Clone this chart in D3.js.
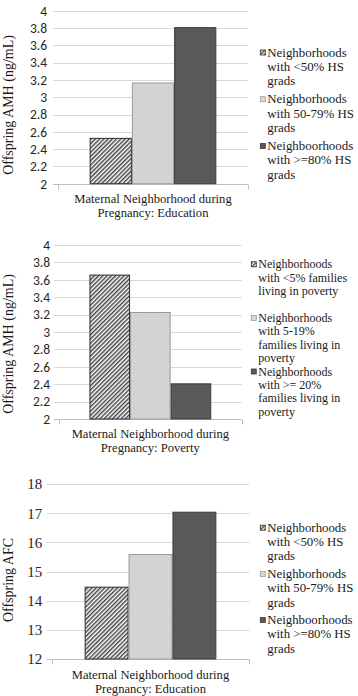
<!DOCTYPE html>
<html><head><meta charset="utf-8">
<script src="https://cdn.jsdelivr.net/npm/d3@7"></script>
<style>html,body{margin:0;padding:0;background:#fff;} svg{display:block;}</style>
</head><body><svg id="c" width="358" height="696"></svg>
<script>
// ---------- data ----------
const amhTickLabels = ["2","2.2","2.4","2.6","2.8","3","3.2","3.4","3.6","3.8","4"];
const afcTickLabels = ["12","13","14","15","16","17","18"];
const educationCategory = ["Maternal Neighborhood during Pregnancy: Education"];
const povertyCategory = ["Maternal Neighborhood during Pregnancy: Poverty"];
const educationTitleLines = ["Maternal Neighborhood during","Pregnancy: Education"];
const povertyTitleLines = ["Maternal Neighborhood during","Pregnancy: Poverty"];
const educationGroups = ["<50% HS grads","50-79% HS grads",">=80% HS grads"];
const povertyGroups = ["<5% families in poverty","5-19% families in poverty",">= 20% families in poverty"];
const educationLegend = [
  ["Neighborhoods","with <50% HS","grads"],
  ["Neighborhoods","with 50-79% HS","grads"],
  ["Neighboorhoods","with >=80% HS","grads"]];
const povertyLegend = [
  ["Neighborhoods","with <5% families","living in poverty"],
  ["Neighborhoods","with 5-19%","families living in","poverty"],
  ["Neighborhoods","with >= 20%","families living in","poverty"]];
const amhByEducation = [2.53, 3.17, 3.81];
const amhByPoverty = [3.66, 3.23, 2.41];
const afcByEducation = [14.48, 15.60, 17.05];

// ---------- drawing ----------
const svg = d3.select("#c");
const defs = svg.append("defs");
const hatch = defs.append("pattern").attr("id","p0").attr("patternUnits","userSpaceOnUse")
  .attr("width",3).attr("height",3).attr("patternTransform","rotate(45)");
hatch.append("rect").attr("width",3).attr("height",3).attr("fill","#fff");
hatch.append("line").attr("x1",0.75).attr("y1",0).attr("x2",0.75).attr("y2",3).attr("stroke","#3a3a3a").attr("stroke-width",1.4);
const light = defs.append("pattern").attr("id","p1").attr("patternUnits","userSpaceOnUse")
  .attr("width",2).attr("height",2).attr("patternTransform","rotate(-45)");
light.append("rect").attr("width",2).attr("height",2).attr("fill","#dadada");
light.append("line").attr("x1",0.5).attr("y1",0).attr("x2",0.5).attr("y2",2).attr("stroke","#c9c9c9").attr("stroke-width",0.8);
const dark = defs.append("pattern").attr("id","p2").attr("patternUnits","userSpaceOnUse")
  .attr("width",2).attr("height",2);
dark.append("rect").attr("width",2).attr("height",2).attr("fill","#575757");
dark.append("rect").attr("width",1).attr("height",1).attr("fill","#5f5f5f");

const fills = ["url(#p0)","url(#p1)","url(#p2)"];
const strokes = ["#2e2e2e","#9a9a9a","#3c3c3c"];
const swatchFills = ["url(#p0)","#d9d9d9","#595959"];
const serif = "Liberation Serif, Times New Roman, serif";

function multiline(sel, lines, x, lh) {
  sel.selectAll("tspan").data(lines).join("tspan")
    .attr("x", x).attr("dy", (d, i) => i === 0 ? 0 : lh).text(d => d);
}

function drawChart(o) {
  const g = svg.append("g");
  const y = d3.scaleLinear().domain([+o.ticks[0], +o.ticks[o.ticks.length-1]]).range([o.bottom, o.top]);
  const x0 = d3.scaleBand().domain(o.category).range([o.left, o.right]).paddingInner(0).paddingOuter(0.25);
  const x1 = d3.scaleBand().domain(o.groups).range([0, x0.bandwidth()]).padding(0);

  // gridlines
  g.append("g").selectAll("line").data(o.ticks.slice(1)).join("line")
    .attr("x1", o.left - 5).attr("x2", o.right)
    .attr("y1", d => Math.round(y(+d)) + 0.5).attr("y2", d => Math.round(y(+d)) + 0.5)
    .attr("stroke", "#d9d9d9").attr("stroke-width", 1);
  // category axis
  const yb = Math.round(o.bottom) + 0.5;
  g.append("line").attr("x1", o.left - 5).attr("x2", o.right).attr("y1", yb).attr("y2", yb)
    .attr("stroke", "#bfbfbf");
  g.selectAll(".ct").data([o.left, o.right]).join("line")
    .attr("x1", d => Math.round(d) + 0.5).attr("x2", d => Math.round(d) + 0.5)
    .attr("y1", yb).attr("y2", yb + 5).attr("stroke", "#bfbfbf");

  // tick labels
  g.append("g").selectAll("text").data(o.ticks).join("text")
    .attr("x", o.labelRight).attr("y", d => y(+d)).attr("dy", "0.36em")
    .attr("text-anchor", "end").attr("font-family", o.tickFont).attr("font-size", o.tickSize)
    .attr("fill", "#262626").text(d => d);

  // bars
  const cat = o.category[0];
  g.append("g").selectAll("rect").data(o.values).join("rect")
    .attr("x", (d, i) => x0(cat) + x1(o.groups[i]) + 0.5)
    .attr("y", d => y(d) + 0.5)
    .attr("width", x1.bandwidth() - 1)
    .attr("height", d => y(+o.ticks[0]) - y(d) - 0.5)
    .attr("fill", (d, i) => fills[i]).attr("stroke", (d, i) => strokes[i]).attr("stroke-width", 1);

  // y title
  g.append("text").attr("transform", `translate(${o.yTitleX},${o.yTitleY}) rotate(-90)`)
    .attr("text-anchor", "middle").attr("font-family", serif)
    .attr("font-size", 14).attr("fill", "#1a1a1a").text(o.yTitle);

  // x title
  const cx = x0(cat) + x0.bandwidth() / 2;
  g.append("text").attr("y", o.xTitleY)
    .attr("text-anchor", "middle").attr("font-family", serif)
    .attr("font-size", 12.6).attr("fill", "#1a1a1a")
    .call(multiline, o.xTitleLines, cx, o.xTitleLH);

  // legend
  const lg = g.append("g");
  o.legend.forEach((lines, i) => {
    const ly = o.legendY + i * o.legendStep;
    lg.append("rect").attr("x", o.legendX - 7).attr("y", ly - 6.5).attr("width", 5).attr("height", 5)
      .attr("fill", swatchFills[i]).attr("stroke", strokes[i]).attr("stroke-width", 0.8);
    lg.append("text").attr("y", ly)
      .attr("font-family", serif).attr("font-size", o.legendFont).attr("fill", "#1a1a1a")
      .call(multiline, lines, o.legendX, o.legendLH);
  });
}

drawChart({
  ticks: amhTickLabels, category: educationCategory, groups: educationGroups, values: amhByEducation,
  left: 58, right: 248, top: 10.7, bottom: 183.7, labelRight: 47,
  tickFont: "Carlito, Lato, sans-serif", tickSize: 13.5,
  yTitle: "Offspring AMH (ng/mL)", yTitleX: 12.5, yTitleY: 105,
  xTitleLines: educationTitleLines, xTitleY: 203.2, xTitleLH: 14.1,
  legend: educationLegend, legendX: 267.3, legendY: 56.5, legendStep: 46.7, legendLH: 14.4, legendFont: 12.9
});
drawChart({
  ticks: amhTickLabels, category: povertyCategory, groups: povertyGroups, values: amhByPoverty,
  left: 59, right: 241.7, top: 245, bottom: 419, labelRight: 50,
  tickFont: "Carlito, Lato, sans-serif", tickSize: 13.5,
  yTitle: "Offspring AMH (ng/mL)", yTitleX: 12.5, yTitleY: 344,
  xTitleLines: povertyTitleLines, xTitleY: 438.2, xTitleLH: 14.1,
  legend: povertyLegend, legendX: 258.3, legendY: 268.3, legendStep: 53.6, legendLH: 13.4, legendFont: 12
});
drawChart({
  ticks: afcTickLabels, category: educationCategory, groups: educationGroups, values: afcByEducation,
  left: 51.7, right: 249.3, top: 484, bottom: 659, labelRight: 42.3,
  tickFont: "Liberation Serif, Times New Roman, serif", tickSize: 15,
  yTitle: "Offspring AFC", yTitleX: 12.5, yTitleY: 580,
  xTitleLines: educationTitleLines, xTitleY: 678.8, xTitleLH: 14.1,
  legend: educationLegend, legendX: 267.3, legendY: 531.7, legendStep: 46.2, legendLH: 14.3, legendFont: 12.8
});
</script></body></html>
